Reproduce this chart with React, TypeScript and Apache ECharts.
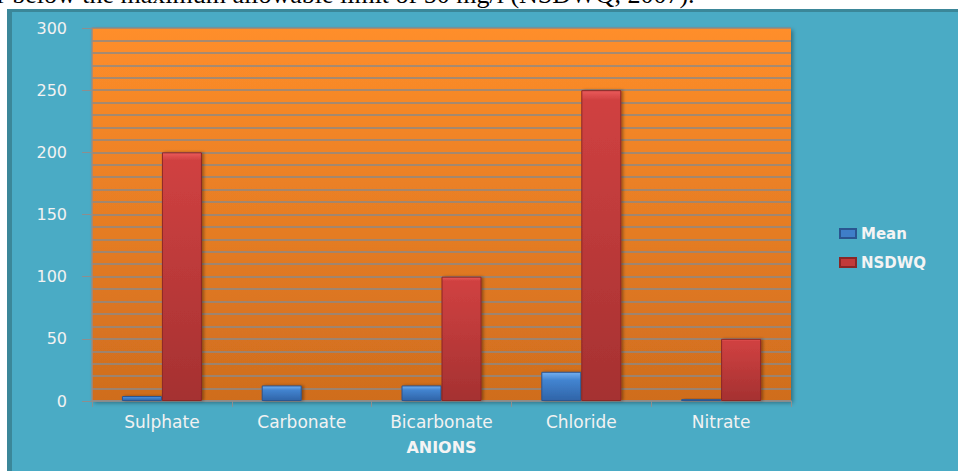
import React, { useEffect, useRef } from "react";
import * as echarts from "echarts";

const categories = ["Sulphate", "Carbonate", "Bicarbonate", "Chloride", "Nitrate"];
const meanValues = [4, 12.5, 12.5, 23.5, 1.5];
const nsdwqValues = [200, 0, 100, 250, 50];
const yTickLabels = [0, 50, 100, 150, 200, 250, 300];
const seriesNames = ["Mean", "NSDWQ"];
const headerText = "r below the maximum allowable limit of 50 mg/l (NSDWQ, 2007).";

const SANS = "'DejaVu Sans', Verdana, sans-serif";

export default function App() {
  const ref = useRef<HTMLDivElement>(null);
  useEffect(() => {
    if (!ref.current) return;
    const chart = echarts.init(ref.current, undefined, { renderer: "svg" });
    const blue = new echarts.graphic.LinearGradient(0, 0, 0, 1, [
      { offset: 0, color: "#74b0f0" },
      { offset: 0.28, color: "#4384d0" },
      { offset: 1, color: "#2f64a8" },
    ]);
    const red = new echarts.graphic.LinearGradient(0, 0, 0, 1, [
      { offset: 0, color: "#ea5a5a" },
      { offset: 0.03, color: "#d04141" },
      { offset: 1, color: "#a53131" },
    ]);
    const plotBg = new echarts.graphic.LinearGradient(0, 0, 0, 1, [
      { offset: 0, color: "#ff8e2a" },
      { offset: 1, color: "#cf6d1e" },
    ]);
    chart.setOption({
      animation: false,
      backgroundColor: "transparent",
      graphic: [
        { type: "rect", z: -10, shape: { x: 7, y: 9, width: 951, height: 462 }, style: { fill: "#4aabc5" } },
        { type: "rect", z: -9, shape: { x: 7, y: 9, width: 951, height: 3 }, style: { fill: "#3b8799" } },
        { type: "rect", z: -9, shape: { x: 7, y: 9, width: 5, height: 462 }, style: { fill: "#3b8799" } },
        {
          type: "text",
          z: 10,
          left: -3,
          top: -19,
          style: {
            text: headerText,
            font: "26px 'Liberation Serif', 'Times New Roman', serif",
            fill: "#000",
          },
        },
      ],
      grid: {
        left: 92,
        right: 167,
        top: 28,
        bottom: 70,
        show: true,
        backgroundColor: plotBg,
        borderWidth: 0,
        shadowColor: "rgba(0,0,0,0.35)",
        shadowBlur: 4,
        shadowOffsetX: 2,
        shadowOffsetY: 2,
      },
      legend: {
        orient: "vertical",
        left: 834,
        top: 220,
        itemWidth: 16,
        itemHeight: 9,
        itemGap: 12,
        icon: "rect",
        data: [
          { name: seriesNames[0], itemStyle: { color: "#3f7ec8" } },
          { name: seriesNames[1], itemStyle: { color: "#c23a3a" } },
        ],
        textStyle: { color: "#f4f4f4", fontFamily: SANS, fontSize: 15, fontWeight: "bold", lineHeight: 17 },
      },
      xAxis: {
        type: "category",
        data: categories,
        name: "ANIONS",
        nameLocation: "middle",
        nameGap: 38,
        nameTextStyle: { color: "#f4f4f4", fontFamily: SANS, fontSize: 16, fontWeight: "bold" },
        axisLine: { lineStyle: { color: "#8e8e8e", width: 1.5 } },
        axisTick: { show: true, length: 6, lineStyle: { color: "#8e8e8e" } },
        axisLabel: { color: "#f2f2f2", fontFamily: SANS, fontSize: 17, margin: 12 },
      },
      yAxis: {
        type: "value",
        min: 0,
        max: 300,
        interval: 50,
        axisLine: { show: true, lineStyle: { color: "#8e8e8e", width: 1.5 } },
        axisTick: { show: true, length: 10, lineStyle: { color: "#8e8e8e" } },
        axisLabel: {
          color: "#f2f2f2",
          fontFamily: SANS,
          fontSize: 16,
          margin: 25,
          formatter: (v: number) => (yTickLabels.includes(v) ? String(v) : ""),
        },
        splitLine: { show: true, lineStyle: { color: "#8a8a8a", width: 1.5 } },
        minorTick: { show: false, splitNumber: 5 },
        minorSplitLine: { show: true, lineStyle: { color: "#8a8a8a", width: 1.5 } },
      },
      series: [
        {
          name: seriesNames[0],
          type: "bar",
          data: meanValues,
          barWidth: 40,
          barGap: "0%",
          itemStyle: {
            color: blue,
            borderColor: "#2a5590",
            borderWidth: 1,
            shadowColor: "rgba(0,0,0,0.35)",
            shadowBlur: 3,
            shadowOffsetX: 2,
          },
        },
        {
          name: seriesNames[1],
          type: "bar",
          data: nsdwqValues,
          barWidth: 40,
          barGap: "0%",
          itemStyle: {
            color: red,
            borderColor: "#8a2626",
            borderWidth: 1,
            shadowColor: "rgba(0,0,0,0.35)",
            shadowBlur: 3,
            shadowOffsetX: 2,
          },
        },
      ],
    });
    return () => chart.dispose();
  }, []);
  return (
    <div
      ref={ref}
      style={{ position: "absolute", left: 0, top: 0, width: 958, height: 471 }}
    />
  );
}
